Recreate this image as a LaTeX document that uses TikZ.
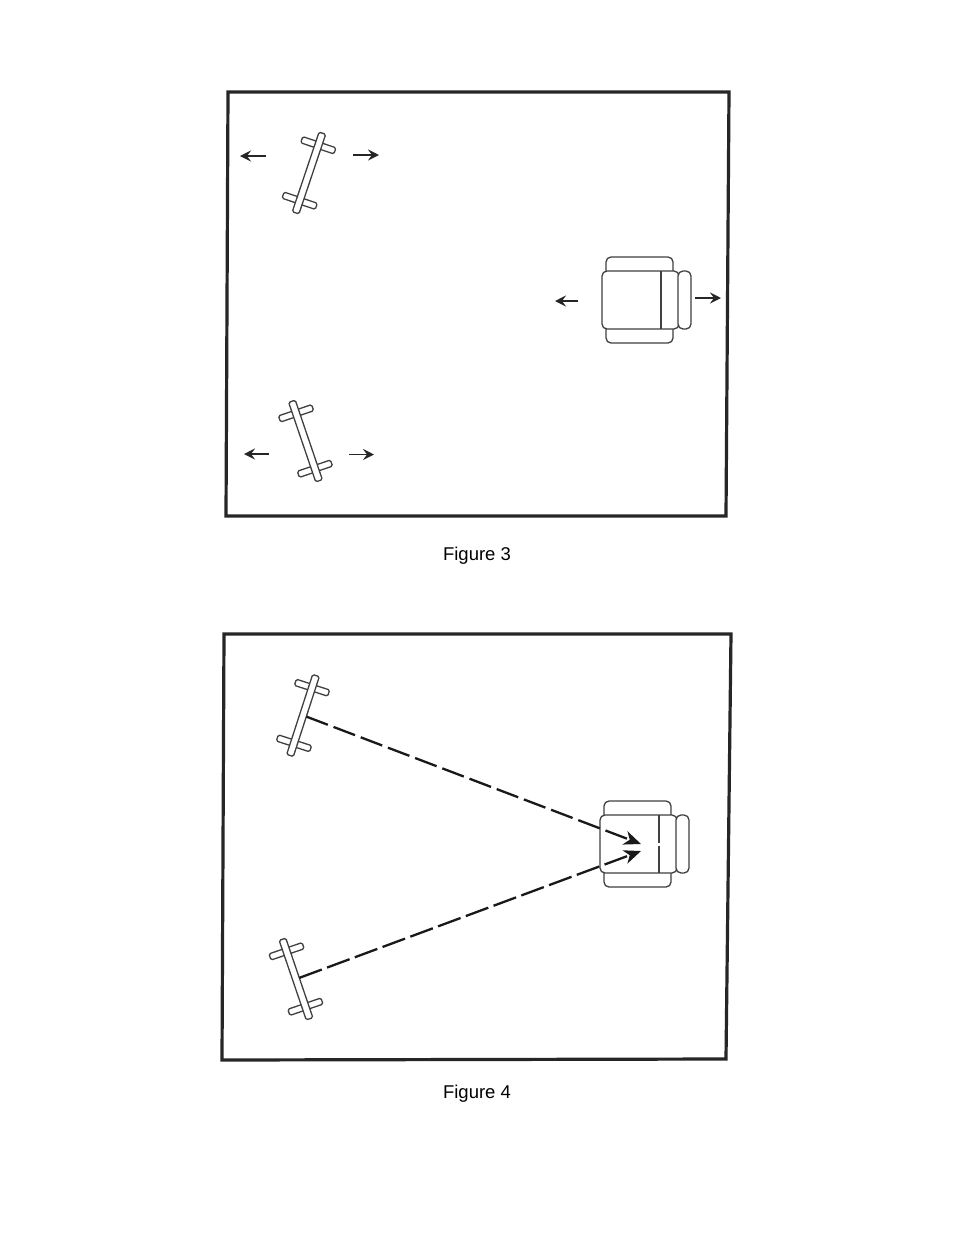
\documentclass[tikz,border=0pt]{standalone}
\usepackage{fontspec}
\setmainfont{Liberation Sans}
\usetikzlibrary{arrows.meta}

\tikzset{
    roomwall/.style = {line width=3.2pt, black!85},
    part/.style = {draw=black!75, line width=1.3pt, fill=white, rounded corners=1.5pt},
    shift arrow/.style = {black!85, line width=1.7pt, -{Stealth[length=11pt, width=11pt, inset=4pt]}},
    sound line/.style = {black!90, line width=2.3pt, -{Stealth[length=17pt, width=14pt, inset=5pt]}},
    caption/.style = {font=\fontsize{18.5}{22}\selectfont},
    speaker/.pic = {
        \draw[part] (-17.5,-32.5) rectangle (17.5,-26);
        \draw[part] (-17.5,26) rectangle (17.5,32.5);
        \draw[part] (-3.5,-42) rectangle (3.5,42);
        \coordinate (-front) at (3.5,0);
    },
    armchair/.pic = {
        \draw[part, rounded corners=5pt] (4,-14) -- (4,-43) -- (71,-43) -- (71,-14);
        \draw[part, rounded corners=5pt] (4,14) -- (4,43) -- (71,43) -- (71,14);
        \draw[part, rounded corners=5pt] (0,-29) rectangle (77,29);
        \draw[part] (59,-29) -- (59,29);
        \draw[part, rounded corners=5pt] (76,-29) rectangle (89,29);
    },
}

\begin{document}
\begin{tikzpicture}[x=1pt, y=-1pt]
    \useasboundingbox[fill=white] (0,0) rectangle (954,1235);

    % Figure 3
    \draw[roomwall] (228,92) -- (729,92) -- (726,516) -- (226,516) -- cycle;

    \pic (spkC) [rotate=-18.6] at (309,173) {speaker};
    \pic (spkD) [rotate=18.8] at (305.5,441) {speaker};
    \pic (chairC) at (602,300) {armchair};

    \coordinate (c1s) at (266,156);  \coordinate (c1e) at (240,156);
    \coordinate (c2s) at (353,155);  \coordinate (c2e) at (379,155);
    \coordinate (c3s) at (578,301);  \coordinate (c3e) at (555,301);
    \coordinate (c4s) at (695,298);  \coordinate (c4e) at (721,298);
    \coordinate (c5s) at (269,454);  \coordinate (c5e) at (244,454);
    \coordinate (c6s) at (349,454.5);  \coordinate (c6e) at (374,454.5);
    \draw[shift arrow] (c1s) -- (c1e);
    \draw[shift arrow] (c2s) -- (c2e);
    \draw[shift arrow] (c3s) -- (c3e);
    \draw[shift arrow] (c4s) -- (c4e);
    \draw[shift arrow] (c5s) -- (c5e);
    \draw[shift arrow] (c6s) -- (c6e);

    \node[caption] (capC) at (477,556) {Figure 3};

    % Figure 4
    \draw[roomwall] (224,634) -- (731,634) -- (726,1059) -- (222,1060) -- cycle;

    \pic (spkA) [rotate=-18] at (303,715.5) {speaker};
    \pic (spkB) [rotate=18.8] at (296,979) {speaker};
    \pic (chairA) at (600,844) {armchair};
    \draw[white, line width=2pt] (659,842.5) -- (659,846); % break in the divider

    \coordinate (earA) at (641,844);
    \coordinate (earB) at (641,851);
    \draw[sound line, dash pattern=on 23pt off 6.1pt] (spkA-front) -- (earA);
    \draw[sound line, dash pattern=on 24pt off 5.6pt] (spkB-front) -- (earB);

    \node[caption] (capD) at (477,1094) {Figure 4};
\end{tikzpicture}
\end{document}
